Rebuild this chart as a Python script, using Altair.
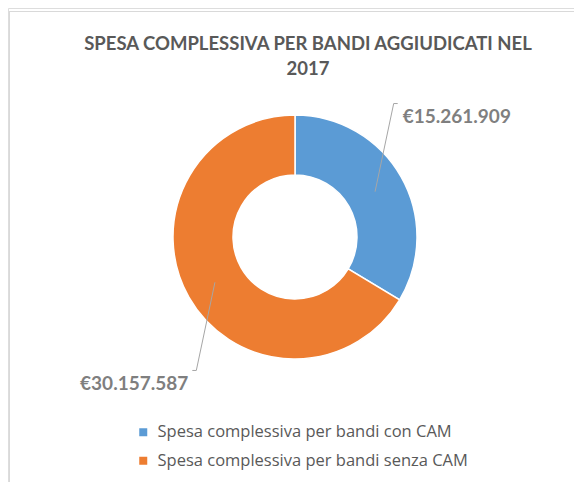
import altair as alt
import pandas as pd

# ---- data ----
categories = ["Spesa complessiva per bandi con CAM", "Spesa complessiva per bandi senza CAM"]
values = [15261909, 30157587]
order_idx = [1, 2]
colors = ["#5B9BD5", "#ED7D31"]
title_lines = ["SPESA COMPLESSIVA PER BANDI AGGIUDICATI NEL", "2017"]

df = pd.DataFrame({"cat": categories, "value": values, "idx": order_idx})

CX, CY = 287, 229
R_OUT, R_IN = 122, 62
R_MID = 92
R_LAB = 166
FONT = "Lato"

base = alt.Chart(df)

donut = base.mark_arc(outerRadius=R_OUT, innerRadius=R_IN, stroke="white", strokeWidth=1.5).encode(
    theta=alt.Theta("value:Q", stack=True),
    order=alt.Order("idx:Q"),
    color=alt.Color(
        "cat:N",
        scale=alt.Scale(domain=categories, range=colors),
        sort=categories,
        legend=alt.Legend(
            title=None,
            orient="none",
            legendX=127,
            legendY=416,
            direction="vertical",
            symbolType="square",
            symbolSize=64,
            symbolStrokeWidth=0,
            labelFont="Open Sans",
            labelFontSize=16.5,
            labelColor="#595959",
            labelOffset=6,
            rowPadding=11.5,
            labelLimit=500,
            padding=0,
        ),
    ),
    x=alt.value(CX),
    y=alt.value(CY),
)

lab = base.transform_joinaggregate(total="sum(value)").transform_window(
    cum="sum(value)", sort=[alt.SortField("idx")], frame=[None, 0]
).transform_calculate(
    mid="(datum.cum - datum.value/2)/datum.total*2*PI",
).transform_calculate(
    end="datum.mid - 24*PI/180",
).transform_calculate(
    x0=f"{CX} + {R_MID}*sin(datum.mid)",
    y0=f"{CY} - {R_MID}*cos(datum.mid)",
    x1=f"{CX} + {R_LAB}*sin(datum.end)",
    y1=f"{CY} - {R_LAB}*cos(datum.end)",
    side="sin(datum.end) >= 0 ? 1 : -1",
    txt="'€' + replace(format(datum.value, ',d'), regexp(',', 'g'), '.')",
).transform_calculate(
    x2="datum.x1 + 4*datum.side",
)

leader = lab.mark_rule(color="#a6a6a6", strokeWidth=1).encode(
    x=alt.X("x0:Q", scale=None), y=alt.Y("y0:Q", scale=None),
    x2="x1:Q", y2="y1:Q",
)
tick = lab.mark_rule(color="#a6a6a6", strokeWidth=1).encode(
    x=alt.X("x1:Q", scale=None), y=alt.Y("y1:Q", scale=None),
    x2="x2:Q", y2="y1:Q",
)
text_r = lab.transform_filter("datum.side > 0").transform_calculate(
    tx="datum.x1 + 9", ty="datum.y1 + 4"
).mark_text(align="left", baseline="top", font=FONT, fontSize=19, fontWeight="bold", color="#7f7f7f").encode(
    x=alt.X("tx:Q", scale=None), y=alt.Y("ty:Q", scale=None), text="txt:N"
)
text_l = lab.transform_filter("datum.side < 0").transform_calculate(
    tx="datum.x1 - 8", ty="datum.y1 + 5"
).mark_text(align="right", baseline="top", font=FONT, fontSize=19, fontWeight="bold", color="#7f7f7f").encode(
    x=alt.X("tx:Q", scale=None), y=alt.Y("ty:Q", scale=None), text="txt:N"
)

title = alt.Chart(pd.DataFrame({"t": [0]})).mark_text(
    align="center", baseline="alphabetic", font=FONT, fontSize=18.5, fontWeight="bold",
    color="#595959", lineHeight=25,
).encode(x=alt.value(300), y=alt.value(42), text=alt.value(title_lines))

border_top = alt.Chart(pd.DataFrame({"t": [0]})).mark_rule(color="#d9d9d9", strokeWidth=1).encode(
    x=alt.value(1), x2=alt.value(566), y=alt.value(3.5)
)
border_left = alt.Chart(pd.DataFrame({"t": [0]})).mark_rule(color="#d9d9d9", strokeWidth=1).encode(
    x=alt.value(1.5), y=alt.value(3), y2=alt.value(474)
)

chart = alt.layer(border_top, border_left, donut, leader, tick, text_r, text_l, title).properties(
    width=566, height=474, padding=0, autosize=alt.AutoSizeParams(type="none")
).configure_view(stroke=None).configure(background="white")

chart.save("out.html", embed_options={"renderer": "svg", "actions": False})
